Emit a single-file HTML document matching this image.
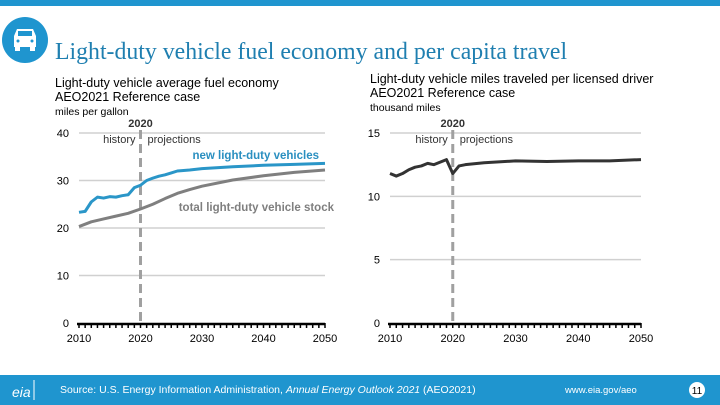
<!DOCTYPE html>
<html><head><meta charset="utf-8"><style>
body{margin:0;width:720px;height:405px;overflow:hidden;background:#fff;font-family:"Liberation Sans",sans-serif}
svg{display:block}
</style></head><body>
<svg width="720" height="405" id="s">
<rect x="0" y="0" width="720" height="6" fill="#1f95cf"/>
<g>
<circle cx="25" cy="40" r="23" fill="#1f95cf"/>
<path d="M14 36 L17 29 H33 L36 36 V47 H14 Z" fill="#fff"/>
<rect x="18" y="31" width="14" height="5" fill="#1f95cf"/>
<rect x="15" y="47" width="5" height="4" fill="#fff"/><rect x="30" y="47" width="5" height="4" fill="#fff"/>
<circle cx="18" cy="41" r="1.5" fill="#1f95cf"/><circle cx="32" cy="41" r="1.5" fill="#1f95cf"/>
</g>
<text x="55" y="59" font-family="Liberation Serif,serif" font-size="23.8" fill="#1f7fb0">Light-duty vehicle fuel economy and per capita travel</text>
<text x="55" y="87" font-size="12.5" fill="#000">Light-duty vehicle average fuel economy</text>
<text x="55" y="101" font-size="12.5" fill="#000">AEO2021 Reference case</text>
<text x="55" y="115" font-size="10.5" fill="#000">miles per gallon</text>
<text x="370" y="83" font-size="12.5" fill="#000">Light-duty vehicle miles traveled per licensed driver</text>
<text x="370" y="97" font-size="12.5" fill="#000">AEO2021 Reference case</text>
<text x="370" y="111" font-size="10.5" fill="#000">thousand miles</text>
<g id="L"></g><g id="R"></g>
<rect x="0" y="375" width="720" height="30" fill="#1f95cf"/>
<text x="12" y="397" font-size="14" fill="#fff" font-style="italic">eia</text>
<line x1="34" y1="380" x2="34" y2="400" stroke="#fff"/>
<text x="60" y="393" font-size="10.5" fill="#fff">Source: U.S. Energy Information Administration, <tspan font-style="italic">Annual Energy Outlook 2021</tspan> (AEO2021)</text>
<text x="565" y="393" font-size="9.5" fill="#fff">www.eia.gov/aeo</text>
<circle cx="697" cy="390" r="8" fill="#fff"/>
<text x="697" y="394" font-size="10" fill="#000" text-anchor="middle">11</text>
</svg>
<script>
const newYears=[2010,2011,2012,2013,2014,2015,2016,2017,2018,2019,2020,2021,2022,2023,2024,2025,2026,2028,2030,2035,2040,2045,2050];
const newMpg=[23.3,23.5,25.5,26.5,26.3,26.6,26.5,26.8,27,28.5,29,30,30.5,30.9,31.2,31.6,32,32.2,32.5,32.9,33.2,33.4,33.6];
const stockYears=[2010,2012,2014,2016,2018,2020,2022,2024,2026,2028,2030,2035,2040,2045,2050];
const stockMpg=[20.3,21.3,21.9,22.5,23.1,24,25,26.2,27.3,28.1,28.8,30.1,31,31.7,32.2];
const vmtYears=[2010,2011,2012,2013,2014,2015,2016,2017,2018,2019,2020,2021,2022,2025,2030,2035,2040,2045,2050];
const vmtValues=[11.8,11.6,11.8,12.1,12.3,12.4,12.6,12.5,12.7,12.9,11.8,12.4,12.5,12.65,12.8,12.75,12.8,12.8,12.9];
const leftTicks=[0,10,20,30,40];
const rightTicks=[0,5,10,15];
const xTicks=[2010,2020,2030,2040,2050];
const NS="http://www.w3.org/2000/svg";
function mk(p,t,a){const e=document.createElementNS(NS,t);for(const k in a)e.setAttribute(k,a[k]);p.appendChild(e);return e;}
function chart(g,x0,x1,yMax,ticks,series,prefix){
 const X=v=>x0+(v-2010)/40*(x1-x0), Y=v=>323-v/yMax*190;
 ticks.forEach(t=>{
  if(t>0){const l=mk(g,'line',{x1:x0,x2:x1,y1:Y(t),y2:Y(t),stroke:'#d0d0d0','stroke-width':1.5});
  
  }
  const tx=mk(g,'text',{x:x0-10,y:Y(t)+4,'font-size':11,'text-anchor':'end'});tx.textContent=t;
  
  
 });
 xTicks.forEach(t=>{const tx=mk(g,'text',{x:X(t),y:342,'font-size':11,'text-anchor':'middle'});tx.textContent=t;
  
  });
 const ax=mk(g,'line',{x1:x0-2,x2:x1,y1:324,y2:324,stroke:'#000','stroke-width':2.5});
 
 
 for(let y=2010;y<=2050;y++){const tk=mk(g,'line',{x1:X(y),x2:X(y),y1:323,y2:328,stroke:'#000','stroke-width':1.5});
  
  }
 const d=mk(g,'line',{x1:X(2020),x2:X(2020),y1:130,y2:323,stroke:'#a0a0a0','stroke-width':3,'stroke-dasharray':'9,5'});
 
 
 const t1=mk(g,'text',{x:X(2020),y:127,'font-size':11,'font-weight':'bold','text-anchor':'middle',fill:'#333'});t1.textContent='2020';
 
 
 const t2=mk(g,'text',{x:X(2020)-5,y:143,'font-size':11,'text-anchor':'end',fill:'#333'});t2.textContent='history';
 
 
 const t3=mk(g,'text',{x:X(2020)+7,y:143,'font-size':11,fill:'#333'});t3.textContent='projections';
 
 
 series.forEach(s=>{const p=mk(g,'polyline',{points:s.x.map((v,i)=>X(v)+','+Y(s.y[i])).join(' '),fill:'none',stroke:s.c,'stroke-width':3,'stroke-linejoin':'round'});
  
  });
 return {X,Y};
}
const L=document.getElementById('L'),R=document.getElementById('R');
chart(L,79,325,40,leftTicks,[{x:stockYears,y:stockMpg,c:'#7f7f7f',n:'total-stock-line'},{x:newYears,y:newMpg,c:'#2a96c8',n:'new-vehicles-line'}],'left');
let t=mk(L,'text',{x:319,y:159,'font-size':11.5,'font-weight':'bold','text-anchor':'end',fill:'#2a8fc0'});t.textContent='new light-duty vehicles';


t=mk(L,'text',{x:334,y:211,'font-size':11.5,'font-weight':'bold','text-anchor':'end',fill:'#7f7f7f'});t.textContent='total light-duty vehicle stock';


chart(R,390,641,15,rightTicks,[{x:vmtYears,y:vmtValues,c:'#333',n:'vmt-line'}],'right');
</script>
</body></html>
